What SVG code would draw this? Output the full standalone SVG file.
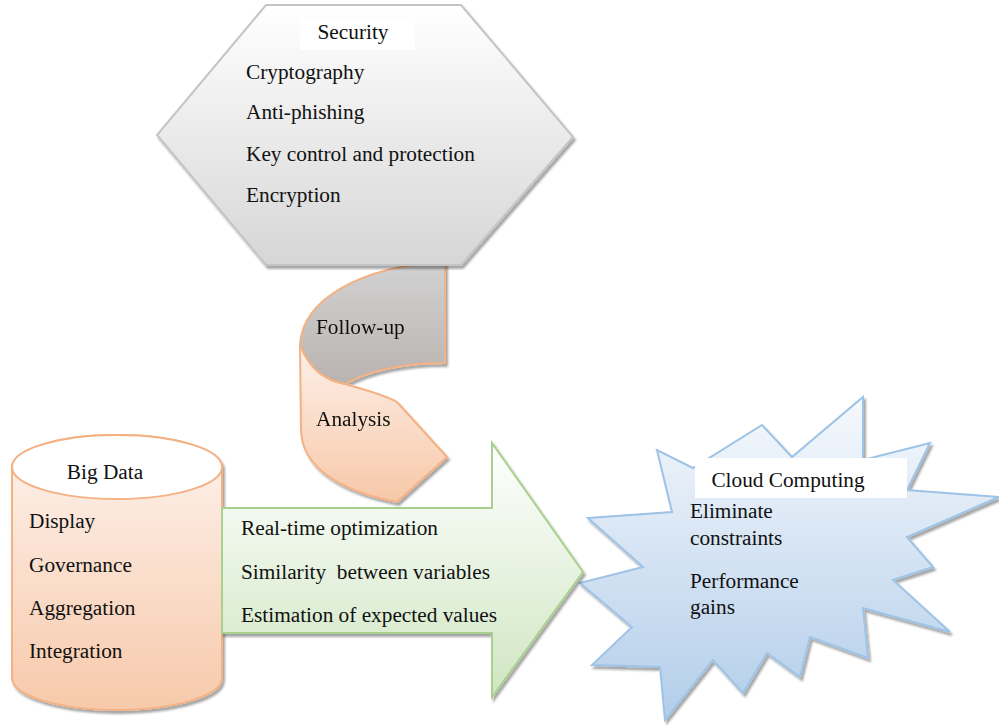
<svg xmlns="http://www.w3.org/2000/svg" width="999" height="728" viewBox="0 0 999 728">
<defs>
<linearGradient id="gHex" x1="0" y1="0" x2="0" y2="1"><stop offset="0" stop-color="#ffffff"/><stop offset="1" stop-color="#d6d6d6"/></linearGradient>
<linearGradient id="gGray" x1="0" y1="0" x2="0" y2="1"><stop offset="0" stop-color="#d2d2d2"/><stop offset="1" stop-color="#b9b3b0"/></linearGradient>
<linearGradient id="gPeach" x1="0" y1="0" x2="0" y2="1"><stop offset="0" stop-color="#fdf0ea"/><stop offset="1" stop-color="#f7c8a8"/></linearGradient>
<linearGradient id="gCyl" x1="0" y1="0" x2="0" y2="1"><stop offset="0" stop-color="#fef3ee"/><stop offset="1" stop-color="#f7c9aa"/></linearGradient>
<linearGradient id="gArrow" x1="0" y1="0" x2="0" y2="1"><stop offset="0" stop-color="#ffffff"/><stop offset="1" stop-color="#cfe6c2"/></linearGradient>
<linearGradient id="gStar" x1="0" y1="0" x2="0" y2="1"><stop offset="0" stop-color="#f6f9fd"/><stop offset="1" stop-color="#b2cde9"/></linearGradient>
<filter id="sh" x="-10%" y="-10%" width="120%" height="120%"><feDropShadow dx="2" dy="3" stdDeviation="1.2" flood-color="#000" flood-opacity="0.35"/></filter>
</defs>
<style>
text{font-family:"Liberation Serif","Times New Roman","DejaVu Serif",serif;font-size:21.3px;fill:#111;}
.c{text-anchor:middle;}
.hex{fill:url(#gHex);stroke:#c4c4c4;stroke-width:2;}
.rib{stroke:#f4b183;stroke-width:2;stroke-linejoin:round;}
.cyl{stroke:#f4b183;stroke-width:2;}
.arr{fill:url(#gArrow);stroke:#a9d18e;stroke-width:2;}
.star{fill:url(#gStar);stroke:#9dc3e6;stroke-width:2;stroke-linejoin:miter;}
.lab{fill:#ffffff;}
</style>
<rect width="999" height="728" fill="#ffffff"/>
<g id="connectors"/>
<g id="followup" filter="url(#sh)">
<path class="rib" fill="url(#gPeach)" d="M300,345 C310,370 325,380 345,384 C365,390 385,395 397,402 L447,457 L397,502 C345,492 302,470 301,430 Z"/>
<path class="rib" fill="url(#gGray)" d="M445,262 C360,266 302,300 300,345 C310,370 325,380 345,384 C370,370 405,363 445,363 Z"/>
<text x="316" y="334">Follow-up</text>
<text x="316" y="426">Analysis</text>
</g>
<g id="security">
<polygon class="hex" filter="url(#sh)" points="266,5 461,5 573,137 461,265 266,265 157,135"/>
<rect class="lab" x="300" y="18" width="115" height="32"/>
<text class="c" x="353" y="39">Security</text>
<text x="246" y="79">Cryptography</text>
<text x="246" y="119">Anti-phishing</text>
<text x="246" y="161">Key control and protection</text>
<text x="246" y="202">Encryption</text>
</g>
<g id="bigdata">
<path class="cyl" fill="url(#gCyl)" filter="url(#sh)" d="M12,467 L12,678 A105,32 0 0 0 222,678 L222,467 A105,32 0 0 0 12,467 Z"/>
<ellipse class="cyl" fill="#ffffff" cx="117" cy="467" rx="105" ry="32"/>
<rect class="lab" x="50" y="453" width="113" height="38"/>
<text class="c" x="105" y="479">Big Data</text>
<text x="29" y="528">Display</text>
<text x="29" y="572">Governance</text>
<text x="29" y="615">Aggregation</text>
<text x="29" y="658">Integration</text>
</g>
<g id="cloud">
<polygon class="star" filter="url(#sh)" points="588,518 672,512 657,450 693,468 762,425 792,457 863,397 863,460 930,443 907,490 999,497 907,537 933,567 893,580 950,632 863,608 868,658 810,637 800,677 767,653 743,693 713,660 665,720 660,667 592,665 632,627 580,583 643,567"/>
<rect class="lab" x="695" y="458" width="212" height="40"/>
<text class="c" x="788" y="487">Cloud Computing</text>
<text x="690" y="518">Eliminate</text>
<text x="690" y="545">constraints</text>
<text x="690" y="588">Performance</text>
<text x="690" y="614">gains</text>
</g>
<g id="process">
<polygon class="arr" filter="url(#sh)" points="222,508 492,508 492,443 583,572 492,697 492,633 222,633"/>
<text x="241" y="535">Real-time optimization</text>
<text x="241" y="579" xml:space="preserve">Similarity  between variables</text>
<text x="241" y="622">Estimation of expected values</text>
</g>
</svg>
